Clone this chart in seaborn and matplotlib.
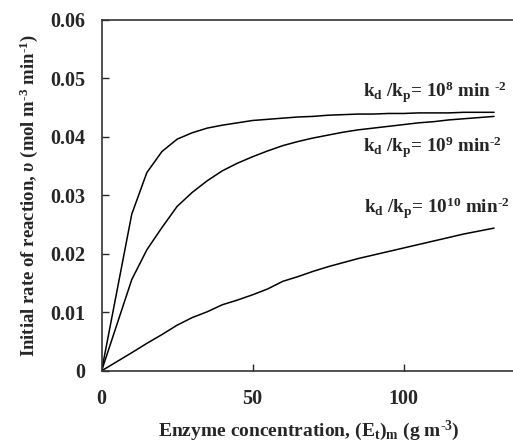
import pandas as pd
import seaborn as sns
import matplotlib.pyplot as plt

# enzyme concentration (g m-3)
conc = [0, 10, 15, 20, 25, 30, 35, 40, 45, 50, 55, 60, 65, 70, 75, 80, 85,
        90, 95, 100, 105, 110, 115, 120, 125, 130]

# initial rate (mol m-3 min-1) for each kd/kp
rate_1e8 = [0, 0.0268, 0.0339, 0.0375, 0.0396, 0.0407, 0.0415, 0.0420, 0.0424,
            0.0428, 0.0430, 0.0432, 0.0434, 0.0435, 0.0437, 0.0438, 0.0439,
            0.0439, 0.0440, 0.0440, 0.0441, 0.0441, 0.0441, 0.0442, 0.0442, 0.0442]
rate_1e9 = [0, 0.0156, 0.0207, 0.0245, 0.0281, 0.0305, 0.0325, 0.0342, 0.0355,
            0.0366, 0.0376, 0.0385, 0.0392, 0.0398, 0.0403, 0.0408, 0.0412,
            0.0415, 0.0418, 0.0421, 0.0424, 0.0426, 0.0429, 0.0431, 0.0433, 0.0435]
rate_1e10 = [0, 0.0031, 0.0047, 0.0062, 0.0078, 0.0091, 0.0101, 0.0113, 0.0121,
             0.0130, 0.0140, 0.0153, 0.0161, 0.0170, 0.0178, 0.0185, 0.0192,
             0.0198, 0.0204, 0.0210, 0.0216, 0.0222, 0.0228, 0.0234, 0.0239, 0.0244]

labels = [r"k$_\mathrm{d}$ /k$_\mathrm{p}$= 10$^{8}$ min $^{\text{-}2}$",
          r"k$_\mathrm{d}$ /k$_\mathrm{p}$= 10$^{9}$ min$^{\text{-}2}$",
          r"k$_\mathrm{d}$ /k$_\mathrm{p}$= 10$^{10}$ min$^{\text{-}2}$"]
label_pos = [(86.5, 0.0467), (86.5, 0.0373), (87.0, 0.0270)]

df = pd.concat([
    pd.DataFrame({"conc": conc, "rate": r, "series": s})
    for r, s in zip([rate_1e8, rate_1e9, rate_1e10], ["1e8", "1e9", "1e10"])
])

sns.set_style("ticks")
plt.rcParams["font.family"] = ["Liberation Serif", "DejaVu Serif"]
plt.rcParams["font.weight"] = "bold"
plt.rcParams["mathtext.fontset"] = "custom"
plt.rcParams["mathtext.rm"] = "Liberation Serif:bold"
plt.rcParams["mathtext.bf"] = "Liberation Serif:bold"
plt.rcParams["mathtext.it"] = "Liberation Serif:italic:bold"

fig = plt.figure(figsize=(5.13, 4.42), dpi=100)
ax = fig.add_axes([0.198, 0.161, 0.824, 0.794])

sns.lineplot(data=df, x="conc", y="rate", hue="series", units="series",
             estimator=None, palette=["black"] * 3, linewidth=1.1,
             legend=False, ax=ax)

for txt, (x, y) in zip(labels, label_pos):
    ax.text(x, y, txt, fontsize=13.8, fontweight="bold", ha="left", va="baseline")

ax.set_xlim(0, 140)
ax.set_ylim(0, 0.06)
ax.set_xticks([0, 50, 100])
ax.set_yticks([0, 0.01, 0.02, 0.03, 0.04, 0.05, 0.06])
ax.set_yticklabels(["0", "0.01", "0.02", "0.03", "0.04", "0.05", "0.06"])
ax.tick_params(direction="in", length=5, width=1, labelsize=14.5)
ax.tick_params(axis="y", pad=12)
ax.tick_params(axis="x", pad=13)
for lab in ax.get_xticklabels() + ax.get_yticklabels():
    lab.set_fontweight("bold")
for sp in ax.spines.values():
    sp.set_linewidth(1.2)
    sp.set_color("#333333")

ax.set_xlabel(r"Enzyme concentration, (E$_\mathrm{t}$)$_\mathrm{m}$ (g m$^{\text{-}3}$)",
              fontsize=14, fontweight="bold", va="baseline")
ax.xaxis.set_label_coords(0.49, -0.185)
ax.set_ylabel(r"Initial rate of reaction, $\upsilon$ (mol m$^{\text{-}3}$ min$^{\text{-}1}$)",
              fontsize=13.5, fontweight="bold")
ax.yaxis.set_label_coords(-0.146, 0.5)

fig.savefig("out.png", dpi=100)
